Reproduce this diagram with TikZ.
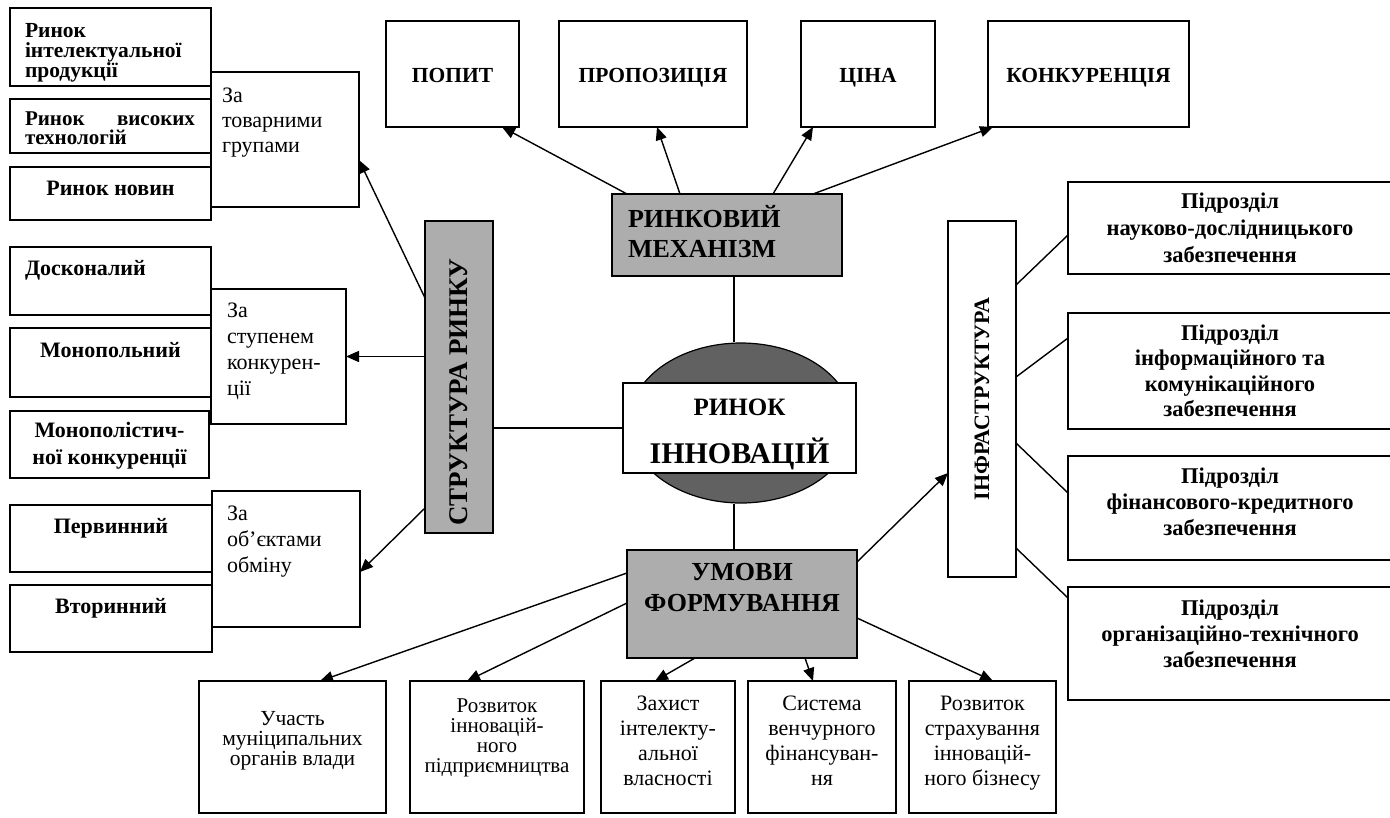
\documentclass[tikz,border=0pt]{standalone}
\usepackage{fontspec}
\usepackage{graphicx}
\setmainfont{Liberation Serif}
\usetikzlibrary{arrows.meta,shapes.geometric}

% font helpers: size / leading, bold or regular
\newcommand\bfs[2]{\fontsize{#1}{#2}\selectfont\bfseries}
\newcommand\rms[2]{\fontsize{#1}{#2}\selectfont}
% fixed-size text cell: width, height, alignment+font, first baseline offset, text
\newcommand\cell[5]{\parbox[c][#2pt][t]{#1pt}{#3\relax\rule{0pt}{#4pt}#5}}

\tikzset{
  frame/.style={draw, line width=1.5pt, fill=white, inner sep=0pt, outer sep=0pt, anchor=north west},
  tint/.style={frame, fill=black!32},
  conn/.style={line width=1.4pt},
  arr/.style={conn, -{Triangle[length=13pt,width=11pt]}},
}

\begin{document}
\begin{tikzpicture}[x=1pt,y=-1pt]
\fill[white] (0,0) rectangle (1390,817);
\useasboundingbox (0,0) rectangle (1390,817);

% ---- left column: market kinds
\node[frame] (l1) at (10,8)   {\cell{201}{78}{\bfs{21.5}{20}\raggedright\leftskip=15pt}{29}{Ринок\\інтелектуальної\\продукції}};
\node[frame] (l2) at (10,99)  {\cell{201}{54}{\bfs{21}{19.5}\leftskip=15pt\rightskip=16pt}{26}{Ринок\hfill високих\\технологій}};
\node[frame] (l3) at (10,167) {\cell{201}{53}{\bfs{22}{17}\centering}{28}{Ринок новин}};
\node[frame] (l4) at (10,247) {\cell{201}{68}{\bfs{22}{17}\raggedright\leftskip=15pt}{28}{Досконалий}};
\node[frame] (l5) at (10,328) {\cell{201}{69}{\bfs{22}{17}\centering}{29}{Монопольний}};
\node[frame] (l6) at (10,411) {\cell{199}{67}{\bfs{22}{27}\centering}{26}{Монополістич-\\ної конкуренції}};
\node[frame] (l7) at (10,505) {\cell{202}{67}{\bfs{22}{17}\centering}{28}{Первинний}};
\node[frame] (l8) at (10,585) {\cell{202}{67}{\bfs{22}{17}\centering}{28}{Вторинний}};

% ---- classification criteria
\node[frame] (z1) at (211,72)  {\cell{148}{135}{\rms{22}{25}\raggedright\leftskip=11pt}{30}{За\\товарними\\групами}};
\node[frame] (z2) at (211,289) {\cell{135}{135}{\rms{22}{26}\raggedright\leftskip=16pt}{28}{За\\ступенем\\конкурен-\\ції}};
\node[frame] (z3) at (212,491) {\cell{148}{136}{\rms{22}{26}\raggedright\leftskip=15pt}{29}{За\\об’єктами\\обміну}};

% ---- market structure bar
\node[tint, minimum width=68pt, minimum height=312pt] (str) at (425,221)
  {\rotatebox{90}{\bfs{27}{27}СТРУКТУРА РИНКУ\hspace*{30pt}}};

% ---- market mechanism
\node[frame] (popyt) at (386,21) {\cell{133}{106}{\bfs{21.5}{24}\centering}{61}{ПОПИТ}};
\node[frame] (prop)  at (559,21) {\cell{188}{106}{\bfs{21.5}{24}\centering}{61}{ПРОПОЗИЦІЯ}};
\node[frame] (tsina) at (801,21) {\cell{134}{106}{\bfs{21.5}{24}\centering}{61}{ЦІНА}};
\node[frame] (konk)  at (988,21) {\cell{201}{106}{\bfs{21.5}{24}\centering}{61}{КОНКУРЕНЦІЯ}};
\node[tint] (rm) at (612,194) {\cell{230}{82}{\bfs{26}{30}\raggedright\leftskip=16pt}{33}{РИНКОВИЙ\\МЕХАНІЗМ}};

% ---- core
\node[ellipse, draw, line width=1.2pt, fill=black!62, minimum width=224pt, minimum height=160pt, inner sep=0pt] (ell) at (741,423) {};
\node[frame] (core) at (623,383) {\cell{233}{90}{\bfs{25}{48}\centering}{32}{РИНОК\\{\fontsize{30}{48}\selectfont ІННОВАЦІЙ}}};

% ---- formation conditions
\node[tint] (umv) at (627,550) {\cell{230}{108}{\bfs{26}{31}\centering}{30}{УМОВИ\\ФОРМУВАННЯ}};

% ---- infrastructure
\node[frame, minimum width=68pt, minimum height=356pt] (infra) at (948,221)
  {\rotatebox{90}{\bfs{22}{22}ІНФРАСТРУКТУРА}};
\node[frame] (r1) at (1068,182) {\cell{324}{92}{\bfs{22.5}{27}\centering}{26}{Підрозділ\\науково-дослідницького\\забезпечення}};
\node[frame] (r2) at (1068,313) {\cell{324}{116}{\bfs{22.5}{25.5}\centering}{27}{Підрозділ\\інформаційного та\\комунікаційного\\забезпечення}};
\node[frame] (r3) at (1068,456) {\cell{324}{104}{\bfs{22.5}{26}\centering}{27}{Підрозділ\\фінансового-кредитного\\забезпечення}};
\node[frame] (r4) at (1068,587) {\cell{324}{113}{\bfs{22.5}{26}\centering}{28}{Підрозділ\\організаційно-технічного\\забезпечення}};

% ---- bottom row
\node[frame] (b1) at (199,681) {\cell{187}{132}{\rms{21.5}{20}\centering}{44}{Участь\\муніципальних\\органів влади}};
\node[frame] (b2) at (410,681) {\cell{174}{132}{\rms{21}{20}\centering}{31}{Розвиток\\інновацій-\\ного\\підприємництва}};
\node[frame] (b3) at (601,681) {\cell{134}{132}{\rms{22}{25}\centering}{29}{Захист\\інтелекту-\\альної\\власності}};
\node[frame] (b4) at (748,681) {\cell{148}{132}{\rms{22}{25}\centering}{29}{Система\\венчурного\\фінансуван-\\ня}};
\node[frame] (b5) at (909,681) {\cell{147}{132}{\rms{22}{25}\centering}{29}{Розвиток\\страхування\\інновацій-\\ного бізнесу}};

% ---- connectors: mechanism
\draw[arr] ([xshift=15pt]rm.north west)  -- ([xshift=116pt]popyt.south west);
\draw[arr] ([xshift=68pt]rm.north west)  -- ([xshift=98pt]prop.south west);
\draw[arr] ([xshift=161pt]rm.north west) -- ([xshift=12pt]tsina.south west);
\draw[arr] ([xshift=201pt]rm.north west) -- ([xshift=5pt]konk.south west);
\draw[conn] ([xshift=122pt]rm.south west) -- ([xshift=-7pt]ell.north);
\draw[conn] ([xshift=-7pt]ell.south) -- ([xshift=107pt]umv.north west);

% ---- connectors: structure
\draw[conn] (core.west -| str.east) -- (core.west);
\draw[arr] ([yshift=-77pt]str.north west) -- ([yshift=-88pt]z1.north east);
\draw[arr] (str.west |- z2.east) -- (z2.east);
\draw[arr] ([yshift=25pt]str.south west) -- ([yshift=55pt]z3.south east);

% ---- connectors: conditions
\draw[arr] ([yshift=-12pt]umv.north east) -- ([yshift=104pt]infra.south west);
\draw[arr] ([yshift=-23pt]umv.north west) -- ([xshift=121pt]b1.north west);
\draw[arr] ([yshift=-53pt]umv.north west) -- ([xshift=57pt]b2.north west);
\draw[arr] ([xshift=68pt]umv.south west)  -- ([xshift=54pt]b3.north west);
\draw[arr] ([xshift=178pt]umv.south west) -- ([xshift=65pt]b4.north west);
\draw[arr] ([yshift=40pt]umv.south east)  -- ([xshift=84pt]b5.north west);

% ---- connectors: infrastructure units
\draw[conn] ([yshift=-64pt]infra.north east)  -- ([yshift=-53pt]r1.north west);
\draw[conn] ([yshift=-156pt]infra.north east) -- ([yshift=-25pt]r2.north west);
\draw[conn] ([yshift=-222pt]infra.north east) -- ([yshift=-37pt]r3.north west);
\draw[conn] ([yshift=-327pt]infra.north east) -- ([yshift=-11pt]r4.north west);
\end{tikzpicture}
\end{document}
